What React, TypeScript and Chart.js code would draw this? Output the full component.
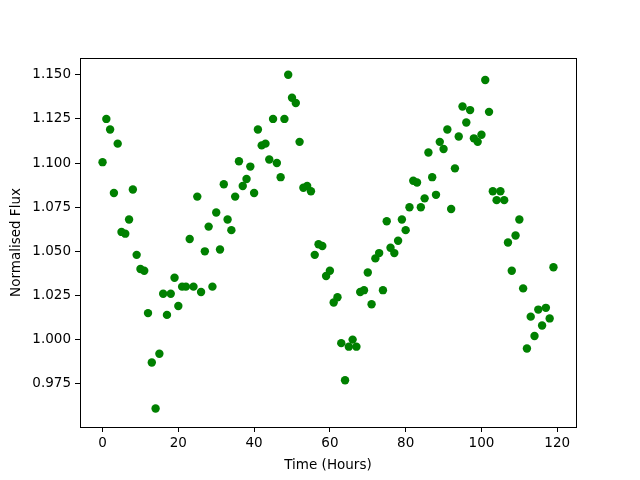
import React, { useEffect, useRef } from "react";
import { Chart, registerables } from "chart.js";

Chart.register(...registerables);

const hours: number[] = Array.from({ length: 120 }, (_, i) => i);

const flux: number[] = [
  1.1005, 1.125, 1.119, 1.083, 1.111, 1.061, 1.06, 1.068, 1.085, 1.048,
  1.04, 1.039, 1.015, 0.987, 0.961, 0.992, 1.026, 1.014, 1.026, 1.035,
  1.019, 1.03, 1.03, 1.057, 1.03, 1.081, 1.027, 1.05, 1.064, 1.03,
  1.072, 1.051, 1.088, 1.068, 1.062, 1.081, 1.101, 1.087, 1.091, 1.098,
  1.083, 1.119, 1.11, 1.111, 1.102, 1.125, 1.1, 1.092, 1.125, 1.15,
  1.137, 1.134, 1.112, 1.086, 1.087, 1.084, 1.048, 1.054, 1.053, 1.036,
  1.039, 1.021, 1.024, 0.998, 0.977, 0.996, 1.0, 0.996, 1.027, 1.028,
  1.038, 1.02, 1.046, 1.049, 1.028, 1.067, 1.052, 1.049, 1.056, 1.068,
  1.062, 1.075, 1.09, 1.089, 1.075, 1.08, 1.106, 1.092, 1.082, 1.112,
  1.108, 1.119, 1.074, 1.097, 1.115, 1.132, 1.123, 1.13, 1.114, 1.112,
  1.116, 1.147, 1.129, 1.084, 1.079, 1.084, 1.079, 1.055, 1.039, 1.059,
  1.068, 1.029, 0.995, 1.013, 1.002, 1.017, 1.008, 1.018, 1.012, 1.041,
];

const xTicks: number[] = [0, 20, 40, 60, 80, 100, 120];
const yTicks: number[] = [0.975, 1.0, 1.025, 1.05, 1.075, 1.1, 1.125, 1.15];

const xLabel = "Time (Hours)";
const yLabel = "Normalised Flux";

const FONT = "'DejaVu Sans', sans-serif";

const framePlugin = {
  id: "frame",
  afterDatasetsDraw(chart: any) {
    const { ctx, chartArea } = chart;
    ctx.save();
    ctx.strokeStyle = "#000";
    ctx.lineWidth = 1;
    ctx.strokeRect(
      Math.round(chartArea.left) + 0.5,
      Math.round(chartArea.top) + 0.5,
      Math.round(chartArea.right - chartArea.left),
      Math.round(chartArea.bottom - chartArea.top)
    );
    ctx.restore();
  },
};

export default function App() {
  const ref = useRef<HTMLCanvasElement | null>(null);

  useEffect(() => {
    document.body.style.margin = "0";
    const canvas = ref.current;
    if (!canvas) return;
    const chart = new Chart(canvas, {
      type: "scatter",
      data: {
        datasets: [
          {
            data: hours.map((h, i) => ({ x: h, y: flux[i] })),
            backgroundColor: "#008000",
            borderColor: "#008000",
            borderWidth: 0,
            pointRadius: 4.2,
            pointHoverRadius: 4.2,
          },
        ],
      },
      options: {
        responsive: false,
        animation: false,
        layout: { padding: { top: 58, right: 64, left: 0, bottom: 0 } },
        plugins: {
          legend: { display: false },
          tooltip: { enabled: false },
        },
        scales: {
          x: {
            type: "linear",
            min: -5.95,
            max: 124.95,
            afterBuildTicks: (scale: any) => {
              scale.ticks = xTicks.map((v) => ({ value: v }));
            },
            afterFit: (scale: any) => {
              scale.height = 53;
            },
            grid: {
              display: true,
              drawOnChartArea: false,
              drawTicks: true,
              tickLength: 5,
              color: "#000",
            },
            border: { display: true, color: "#000" },
            ticks: {
              color: "#000",
              padding: 3,
              maxRotation: 0,
              font: { family: FONT, size: 13.5 },
              callback: (v: any) => String(v),
            },
            title: {
              display: true,
              text: xLabel,
              color: "#000",
              font: { family: FONT, size: 13.5 },
              padding: { top: 0, bottom: 6 },
            },
          },
          y: {
            type: "linear",
            min: 0.9505,
            max: 1.1595,
            afterBuildTicks: (scale: any) => {
              scale.ticks = yTicks.map((v) => ({ value: v }));
            },
            afterFit: (scale: any) => {
              scale.width = 80;
            },
            grid: {
              display: true,
              drawOnChartArea: false,
              drawTicks: true,
              tickLength: 5,
              color: "#000",
            },
            border: { display: true, color: "#000" },
            ticks: {
              color: "#000",
              padding: 4,
              font: { family: FONT, size: 13.5 },
              callback: (v: any) => Number(v).toFixed(3),
            },
            title: {
              display: true,
              text: yLabel,
              color: "#000",
              font: { family: FONT, size: 13.5 },
              padding: { top: 8, bottom: 0 },
            },
          },
        },
      },
      plugins: [framePlugin],
    });
    return () => chart.destroy();
  }, []);

  return (
    <div style={{ position: "absolute", left: 0, top: 0, width: 640, height: 480, background: "#fff" }}>
      <canvas ref={ref} width={640} height={480} style={{ width: 640, height: 480, display: "block" }} />
    </div>
  );
}
